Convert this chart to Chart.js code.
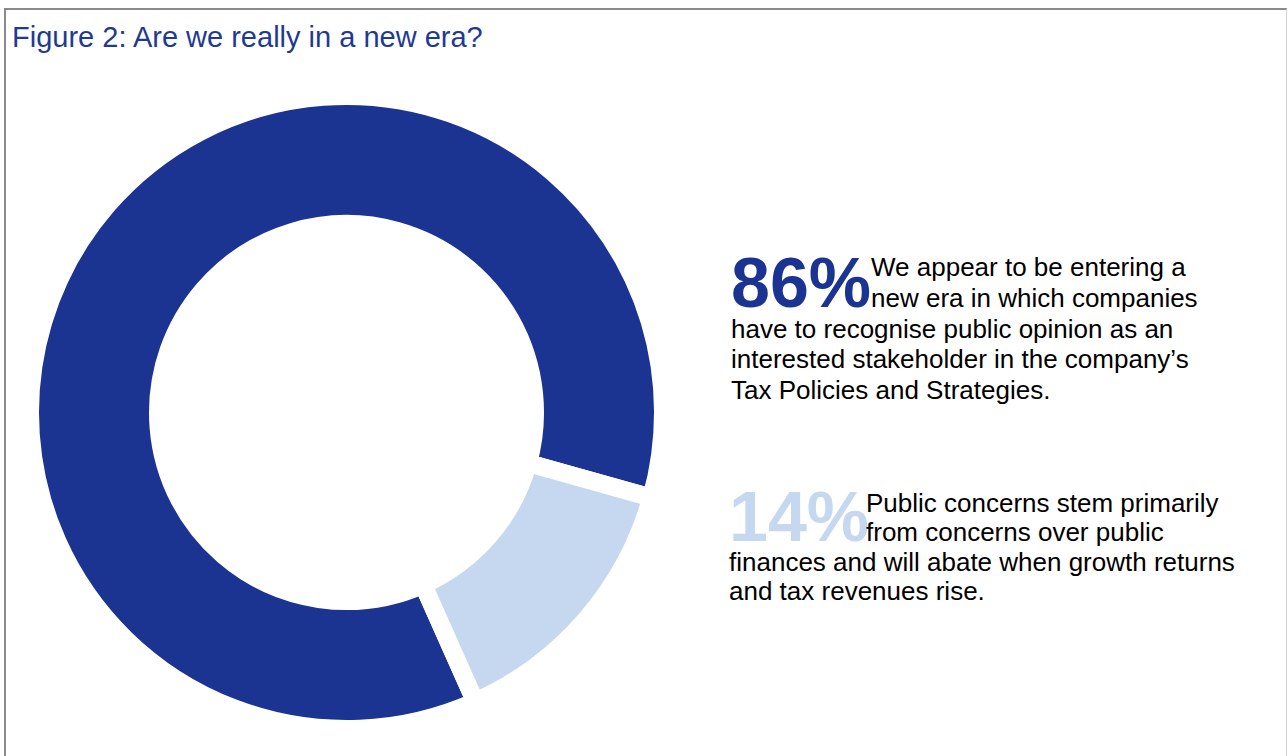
<!DOCTYPE html>
<html lang="en">
<head>
<meta charset="UTF-8">
<meta name="viewport" content="width=device-width, initial-scale=1.0">
<title>Figure 2: Are we really in a new era?</title>
<script src="https://cdn.jsdelivr.net/npm/chart.js@4.4.0/dist/chart.umd.min.js"></script>
<style>
    html, body {
        margin: 0;
        width: 1288px;
        height: 756px;
        overflow: hidden;
        background: #ffffff;
        font-family: "Liberation Sans", Arial, sans-serif;
    }
    .moldura {
        position: absolute;
        left: 4px;
        top: 8px;
        width: 1283px;
        height: 800px;
        box-sizing: border-box;
        border: 2px solid #8a8a8a;
        border-right: 1px solid #d2d2d2;
        border-bottom: none;
    }
    .titulo {
        position: absolute;
        left: 12px;
        top: 22.5px;
        font-size: 29px;
        line-height: 29px;
        color: #1f3a93;
        white-space: nowrap;
    }
    #rosca {
        position: absolute;
        left: 21px;
        top: 87px;
    }
    .linha {
        position: absolute;
        white-space: nowrap;
        color: #000000;
    }
</style>
</head>
<body>
    <div class="moldura"></div>
    <div class="titulo">Figure 2: Are we really in a new era?</div>
    <canvas id="rosca" width="651" height="651"></canvas>
    <div id="notas"></div>

<script>
    // dados do gráfico
    const rotulos = ['New era', 'Will abate'];
    const percentuais = [86, 14];
    const cores = ['#1b3391', '#c6d8ef'];

    const textos = [
        ['We appear to be entering a',
         'new era in which companies',
         'have to recognise public opinion as an',
         'interested stakeholder in the company\u2019s',
         'Tax Policies and Strategies.'],
        ['Public concerns stem primarily',
         'from concerns over public',
         'finances and will abate when growth returns',
         'and tax revenues rise.']
    ];

    // posição de cada bloco de texto (x do número, x das duas primeiras linhas, baseline e passo)
    const blocos = [
        { x: 731, xTexto: 871, base: 276, passo: 30.8 },
        { x: 729, xTexto: 866, base: 512, passo: 29.3 }
    ];

    var rosca = document.getElementById('rosca').getContext('2d');

    var myChartRosca = new Chart(rosca, {
        type: 'doughnut',
        data: {
            labels: rotulos,
            datasets: [{
                data: percentuais,
                backgroundColor: cores,
                borderColor: '#ffffff',
                borderWidth: 18,
                borderJoinStyle: 'miter',
                hoverOffset: 0
            }]
        },
        options: {
            responsive: false,
            animation: false,
            rotation: 156,
            cutout: '59.56%',
            layout: { padding: 0 },
            plugins: {
                legend: { display: false },
                tooltip: { enabled: false }
            }
        }
    });

    // coloca um texto com a baseline em y (Liberation Sans, line-height = tamanho)
    function escrever(texto, x, baseline, tamanho, extra) {
        var div = document.createElement('div');
        div.className = 'linha';
        div.textContent = texto;
        div.style.left = x + 'px';
        div.style.top = (baseline - 0.8465 * tamanho) + 'px';
        div.style.fontSize = tamanho + 'px';
        div.style.lineHeight = tamanho + 'px';
        if (extra) Object.assign(div.style, extra);
        document.getElementById('notas').appendChild(div);
    }

    for (let i = 0; i < blocos.length; i++) {
        let b = blocos[i];
        let linhas = textos[i];
        escrever(percentuais[i] + '%', b.x, b.base + b.passo, 70, { fontWeight: 'bold', color: cores[i] });
        for (let j = 0; j < linhas.length; j++) {
            let x = j < 2 ? b.xTexto : b.x;
            escrever(linhas[j], x, b.base + j * b.passo, 26);
        }
    }
</script>
</body>
</html>
